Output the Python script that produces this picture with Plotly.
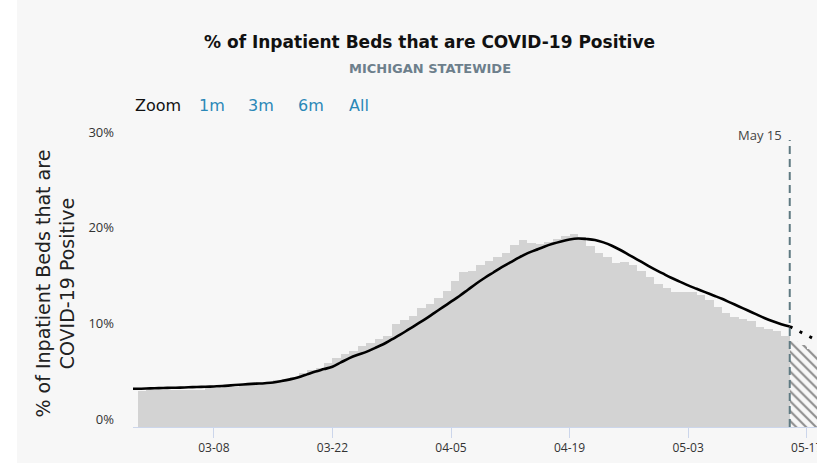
import pandas as pd
import plotly.graph_objects as go

# ---------------- data ----------------
bar_dates = pd.date_range("2021-02-27", "2021-05-14", freq="D")
bar_values = [3.78, 3.82, 3.85, 3.87, 3.9, 3.92, 3.9, 3.88, 4.05, 4.1,
              4.15, 4.15, 4.4, 4.5, 4.55, 4.6, 4.95, 5.0, 5.26, 5.6,
              5.96, 6.2, 6.7, 7.25, 7.6, 7.9, 8.47, 8.8, 9.17, 9.55,
              10.77, 11.2, 11.6, 12.4, 12.86, 13.45, 14.2, 15.26, 16.17, 16.34,
              16.9, 17.4, 17.8, 18.15, 19.05, 19.5, 19.2, 19.1, 19.35, 19.6,
              19.95, 20.2, 19.9, 18.9, 18.15, 17.8, 17.1, 17.2, 16.9, 16.3,
              15.7, 15.0, 14.5, 14.1, 14.1, 14.1, 13.8, 13.3, 12.5, 11.9,
              11.5, 11.3, 11.1, 10.5, 10.2, 10.0, 9.5]

line_dates = pd.date_range("2021-02-26", "2021-05-15", freq="D")
line_values = [4.0, 4.0, 4.02, 4.05, 4.07, 4.1, 4.12, 4.15, 4.18, 4.2,
               4.24, 4.28, 4.35, 4.42, 4.48, 4.53, 4.58, 4.65, 4.8, 4.98,
               5.2, 5.5, 5.8, 6.05, 6.3, 6.75, 7.2, 7.55, 7.85, 8.25,
               8.65, 9.15, 9.65, 10.2, 10.75, 11.3, 11.9, 12.5, 13.1, 13.7,
               14.35, 15.0, 15.6, 16.15, 16.7, 17.2, 17.7, 18.15, 18.5, 18.85,
               19.15, 19.4, 19.6, 19.7, 19.65, 19.55, 19.3, 18.95, 18.5, 18.0,
               17.5, 17.0, 16.5, 16.05, 15.6, 15.2, 14.8, 14.45, 14.1, 13.75,
               13.4, 13.0, 12.6, 12.2, 11.8, 11.4, 11.05, 10.75, 10.5]

proj_dates = pd.date_range("2021-05-15", "2021-05-18", freq="D")
proj_line = [10.5, 10.05, 9.6, 9.15]
proj_bars = [9.0, 8.55, 8.2, 7.9]

y_ticks = [0, 10, 20, 30]
y_tick_labels = ["0%", "10%", "20%", "30%"]
marker_date = "2021-05-15"

# ---------------- layout helpers ----------------
W, H = 817, 463
ML, MR, MT, MB = 133, 0, 140, 36
PW = W - ML - MR
DAY = 86400000
FONT = "Open Sans"
WIDE = "DejaVu Sans"


def px(x):
    return (x - ML) / PW


fig = go.Figure()

fig.add_trace(go.Bar(x=bar_dates, y=bar_values, width=DAY, offset=0,
                     marker=dict(color="#d3d3d3", line=dict(width=0))))
fig.add_trace(go.Bar(x=proj_dates, y=proj_bars, width=DAY, offset=0,
                     marker=dict(color="#f7f7f7", line=dict(width=0),
                                 pattern=dict(shape="\\", fgcolor="#222222",
                                              bgcolor="#f7f7f7", size=7,
                                              solidity=0.3))))
fig.add_trace(go.Scatter(x=line_dates, y=line_values, mode="lines",
                         line=dict(color="#000000", width=2.6, shape="spline")))
fig.add_trace(go.Scatter(x=proj_dates, y=proj_line, mode="lines",
                         line=dict(color="#000000", width=3, dash="3px,8px")))

fig.add_shape(type="line", x0=marker_date, x1=marker_date, y0=0, y1=30,
              xref="x", yref="y", line=dict(color="#5f7a82", width=2, dash="8px,5px"))

# white strip on the far left of the screenshot
fig.add_shape(type="rect", xref="paper", yref="paper", x0=px(0), x1=px(17),
              y0=-1, y1=2, fillcolor="#ffffff", line=dict(width=0), layer="above")

ann = []
ann.append(dict(text="<b>% of Inpatient Beds that are COVID-19 Positive</b>",
                x=px(429.5), y=1, xref="paper", yref="paper", xanchor="center",
                yanchor="middle", yshift=MT - 42, showarrow=False,
                font=dict(family=WIDE, size=17, color="#111111")))
ann.append(dict(text="<b>MICHIGAN STATEWIDE</b>",
                x=px(429.5), y=1, xref="paper", yref="paper", xanchor="center",
                yanchor="middle", yshift=MT - 68, showarrow=False,
                font=dict(family=WIDE, size=13, color="#6d7f8c")))
ann.append(dict(text="Zoom", x=px(133), y=1, xref="paper", yref="paper",
                xanchor="left", yanchor="middle", yshift=MT - 105, showarrow=False,
                font=dict(family=WIDE, size=16, color="#111111")))
for lab, xl in [("1m", 197), ("3m", 246), ("6m", 296), ("All", 347)]:
    ann.append(dict(text=lab, x=px(xl), y=1, xref="paper", yref="paper",
                    xanchor="left", yanchor="middle", yshift=MT - 105, showarrow=False,
                    font=dict(family=WIDE, size=16, color="#2a88b8")))
ann.append(dict(text="May 15", x=marker_date, y=30, xref="x", yref="y",
                xanchor="right", yanchor="middle", xshift=-6, yshift=5,
                showarrow=False, font=dict(family=FONT, size=13, color="#444444")))
ann.append(dict(text="% of Inpatient Beds that are<br>COVID-19 Positive",
                x=px(55), y=0.5, xref="paper", yref="paper", xanchor="center",
                yanchor="middle", textangle=-90, showarrow=False,
                font=dict(family=WIDE, size=19, color="#222222")))

fig.update_layout(
    width=W, height=H,
    margin=dict(l=ML, r=MR, t=MT, b=MB, autoexpand=False),
    paper_bgcolor="#f7f7f7", plot_bgcolor="#f7f7f7",
    showlegend=False, bargap=0, barmode="overlay",
    font=dict(family=FONT, color="#333333"),
    annotations=ann,
)
fig.update_xaxes(type="date", automargin=False,
                 range=["2021-02-26 10:48", "2021-05-18 05:15"],
                 tickformat="%m-%d", tick0="2021-03-08", dtick=14 * DAY,
                 ticks="outside", ticklen=10, tickcolor="#ccd6eb",
                 showline=True, linecolor="#ccd6eb", linewidth=1,
                 showgrid=False, zeroline=False, ticklabeloverflow="allow",
                 tickfont=dict(family=FONT, size=12, color="#333333"))
fig.update_yaxes(range=[0, 30], tickmode="array", tickvals=y_ticks,
                 ticktext=y_tick_labels, automargin=False,
                 showgrid=False, zeroline=False, showline=False,
                 ticklabelshift=-8, ticklabelstandoff=18,
                 tickfont=dict(family=FONT, size=13, color="#333333"))

fig.write_html("out.html", config={"displayModeBar": False},
               post_script="document.body.style.margin='0';"
                           "document.body.style.overflow='hidden';")
